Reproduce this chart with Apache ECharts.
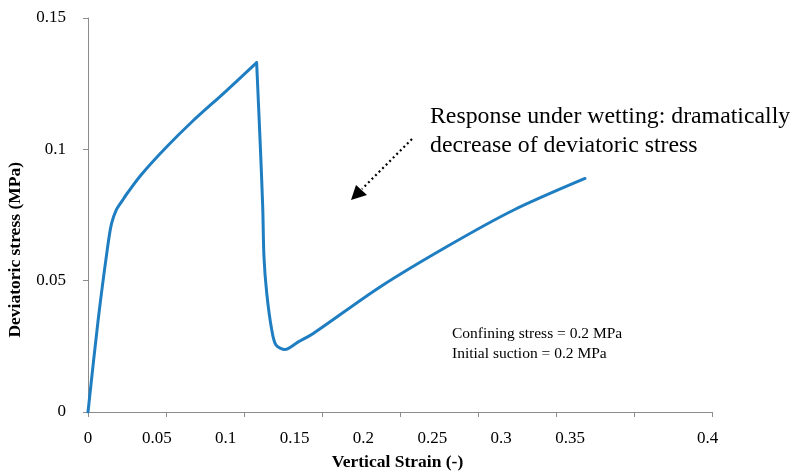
<!DOCTYPE html>
<html>
<head>
<meta charset="utf-8">
<script src="https://cdn.jsdelivr.net/npm/echarts@6/dist/echarts.min.js"></script>
<style>html,body{margin:0;padding:0;background:#fff;}#c{width:793px;height:472px;}</style>
</head>
<body>
<div id="c"></div>
<script>
// Data
var strain = [0, 0.0066, 0.0125, 0.0150, 0.0180, 0.0226, 0.0248, 0.0344, 0.0494, 0.0665, 0.0878, 0.1081,
  0.1103, 0.1120, 0.1128, 0.1146, 0.1178, 0.1205, 0.1263, 0.1348, 0.1444, 0.1872, 0.2299, 0.2726, 0.3186];
var stress = [0, 0.0355, 0.0625, 0.0715, 0.0768, 0.0810, 0.0830, 0.0905, 0.1003, 0.1104, 0.1218, 0.1330,
  0.1034, 0.0781, 0.0591, 0.0451, 0.0312, 0.0255, 0.0238, 0.0267, 0.0299, 0.0476, 0.0629, 0.0768, 0.0889];
var peakIndex = 11;
var xLabelText = ['0', '0.05', '0.1', '0.15', '0.2', '0.25', '0.3', '0.35', '', '0.4'];
var yLabelText = ['0', '0.05', '0.1', '0.15'];
var xTitle = 'Vertical Strain (-)';
var yTitle = 'Deviatoric stress (MPa)';
var note1 = ['Response under wetting: dramatically', 'decrease of deviatoric stress'];
var note2 = ['Confining stress = 0.2 MPa', 'Initial suction = 0.2 MPa'];

var pts = strain.map(function (s, i) { return [s, stress[i]]; });
var loading = pts.slice(0, peakIndex + 1);
var wetting = pts.slice(peakIndex);
var font = 'Liberation Serif, Times New Roman, serif';
var axisGrey = '#8c8c8c';
var lineBlue = '#1f7ec2';

var chart = echarts.init(document.getElementById('c'), null, {renderer: 'canvas'});
chart.setOption({
  animation: false,
  backgroundColor: '#fff',
  grid: {left: 88, right: 81, top: 18, bottom: 60, containLabel: false, outerBoundsMode: 'none'},
  xAxis: [{
    type: 'value', min: 0, max: 0.4, interval: 0.05,
    axisLine: {lineStyle: {color: axisGrey, width: 1}},
    axisTick: {show: true, length: 5, lineStyle: {color: axisGrey}},
    axisLabel: {show: false},
    splitLine: {show: false},
    name: xTitle, nameLocation: 'middle', nameGap: 41,
    nameTextStyle: {fontFamily: font, fontWeight: 'bold', fontSize: 17.5, color: '#000', padding: [0, 5, 0, 0]}
  }, {
    type: 'value', min: 0, max: 0.4531, interval: 0.05, position: 'bottom',
    axisLine: {show: false}, axisTick: {show: false}, splitLine: {show: false},
    axisLabel: {
      show: true, margin: 18, fontFamily: font, fontSize: 17, color: '#000',
      showMaxLabel: false,
      formatter: function (v) {
        var k = Math.round(v / 0.05);
        if (Math.abs(v - k * 0.05) > 1e-6) return '';
        return xLabelText[k] || '';
      }
    }
  }],
  yAxis: {
    type: 'value', min: 0, max: 0.15, interval: 0.05,
    axisLine: {show: true, lineStyle: {color: axisGrey, width: 1}},
    axisTick: {show: true, length: 5, lineStyle: {color: axisGrey}},
    splitLine: {show: false},
    axisLabel: {
      margin: 22, fontFamily: font, fontSize: 17, color: '#000',
      formatter: function (v) { return yLabelText[Math.round(v / 0.05)]; }
    }
  },
  series: [{
    type: 'line', xAxisIndex: 0, data: loading, showSymbol: false, smooth: 0.3,
    lineStyle: {color: lineBlue, width: 3, cap: 'round', join: 'round'}
  }, {
    type: 'line', xAxisIndex: 0, data: wetting, showSymbol: false, smooth: 0.3,
    lineStyle: {color: lineBlue, width: 3, cap: 'round', join: 'round'}
  }],
  graphic: [
    {type: 'text', left: 6, top: 162, rotation: Math.PI / 2,
      style: {text: yTitle, fontFamily: font, fontWeight: 'bold', fontSize: 17.5, fill: '#000'}},
    {type: 'text', left: 430, top: 102,
      style: {text: note1.join('\n'), fontFamily: font, fontSize: 23.8, lineHeight: 29, fill: '#000'}},
    {type: 'text', left: 452, top: 324,
      style: {text: note2.join('\n'), fontFamily: font, fontSize: 15.5, lineHeight: 20, fill: '#000'}},
    {type: 'line', shape: {x1: 412, y1: 139, x2: 362, y2: 189},
      style: {stroke: '#000', lineWidth: 2.2, lineDash: [2, 3]}},
    {type: 'polygon', shape: {points: [[351, 200], [356, 185], [367, 195]]},
      style: {fill: '#000'}}
  ]
});
</script>
</body>
</html>
